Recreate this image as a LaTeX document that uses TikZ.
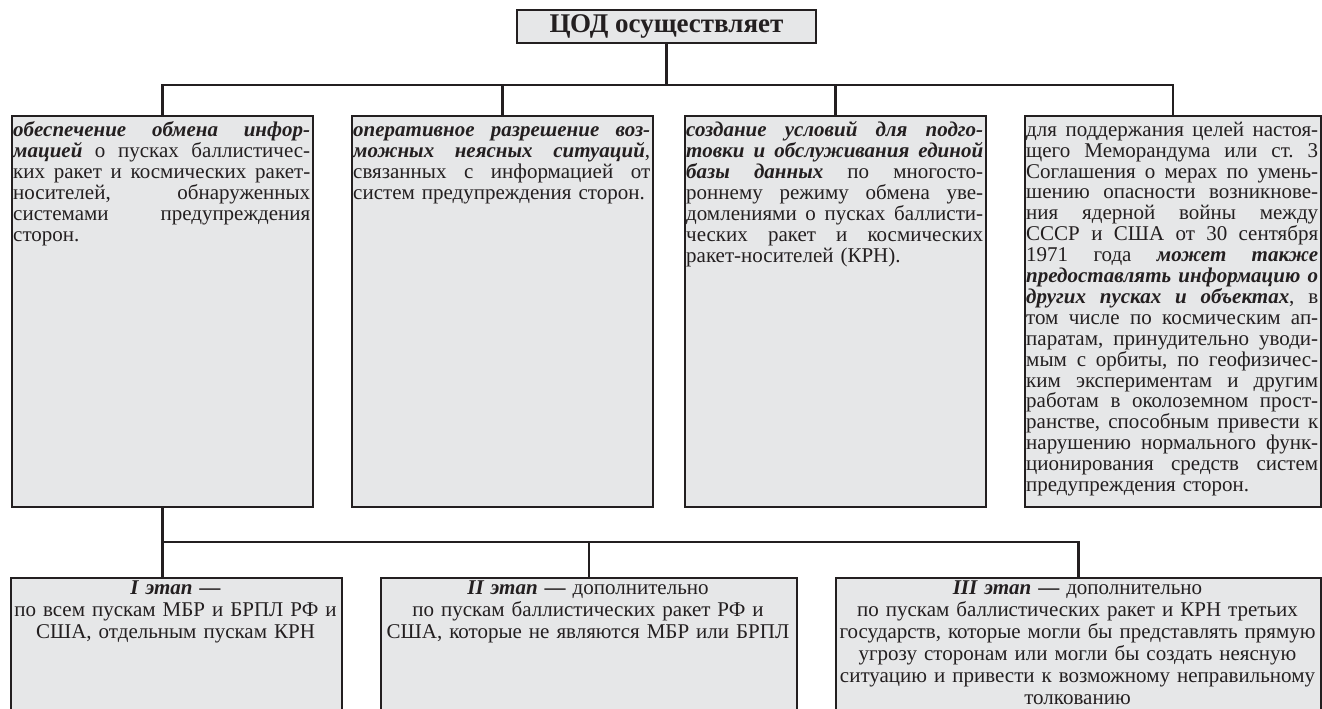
\documentclass[tikz,border=0pt]{standalone}
\usepackage{fontspec}
\setmainfont{Liberation Serif}
\frenchspacing
\setlength\parindent{0pt}
\definecolor{ink}{HTML}{231F20}
\definecolor{boxfill}{HTML}{E6E7E8}
\newcommand\jl[1]{{\spaceskip=0pt\xspaceskip=0pt\makebox[\hsize][s]{#1}}\\}
\newcommand\bi[1]{\textbf{\textit{#1}}}
\newcommand\fst{\rule{0pt}{16pt}}
\tikzset{
  boxsty/.style={draw=ink, fill=boxfill, line width=2pt, inner sep=0pt, anchor=north west},
  conn/.style={draw=ink, line width=2.2pt, line join=miter},
  toptxt/.style={inner sep=0pt, anchor=north west, align=left, text=ink,
    font=\fontsize{21}{20.9}\selectfont},
  bottxt/.style={inner sep=0pt, anchor=north, align=center, text=ink,
    font=\fontsize{21}{22}\selectfont},
}
\begin{document}
\begin{tikzpicture}[x=1pt,y=-1pt]
\useasboundingbox (0,0) rectangle (1322,709);
\clip (0,0) rectangle (1322,709);

% title
\node[boxsty, anchor=center, minimum width=299pt, minimum height=33pt,
      font=\fontsize{27}{30}\selectfont\bfseries, text=ink] (t0) at (666.5,26.5) {ЦОД осуществляет};

% upper boxes
\node[boxsty, minimum width=301pt, minimum height=391pt] (b1) at (11,115) {};
\node[boxsty, minimum width=301pt, minimum height=391pt] (b2) at (351,115) {};
\node[boxsty, minimum width=301pt, minimum height=391pt] (b3) at (684,115) {};
\node[boxsty, minimum width=296pt, minimum height=391pt] (b4) at (1024,115) {};

% lower boxes (run past the lower edge)
\node[boxsty, minimum width=331pt, minimum height=200pt] (c1) at (10,577) {};
\node[boxsty, minimum width=416pt, minimum height=200pt] (c2) at (380,577) {};
\node[boxsty, minimum width=485pt, minimum height=200pt] (c3) at (835,577) {};

% connectors
\coordinate (busTop) at (0,85);
\coordinate (busBot) at (0,542);
\draw[conn] (t0.south) -- (t0.south |- busTop);
\draw[conn] (b1.north) -- (b1.north |- busTop) -- (b4.north |- busTop) -- (b4.north);
\draw[conn] (b2.north) -- (b2.north |- busTop);
\draw[conn] (b3.north) -- (b3.north |- busTop);
\draw[conn] (b1.south) -- (b1.south |- c1.north);
\draw[conn] (b1.south |- busBot) -- (c3.north |- busBot) -- (c3.north);
\draw[conn] (c2.north) -- (c2.north |- busBot);

% upper texts
\node[toptxt, text width=297pt] (x1) at (13,120.5) {%
\jl{\fst\bi{обеспечение обмена инфор-}}
\jl{\bi{мацией} о пусках баллистичес-}
\jl{ких ракет и космических ракет-}
\jl{носителей, обнаруженных}
\jl{системами предупреждения}
сторон.};

\node[toptxt, text width=297pt] (x2) at (353,120.5) {%
\jl{\fst\bi{оперативное разрешение воз-}}
\jl{\bi{можных неясных ситуаций},}
\jl{связанных с информацией от}
систем предупреждения сторон.};

\node[toptxt, text width=297pt] (x3) at (686,120.5) {%
\jl{\fst\bi{создание условий для подго-}}
\jl{\bi{товки и обслуживания единой}}
\jl{\bi{базы данных} по многосто-}
\jl{роннему режиму обмена уве-}
\jl{домлениями о пусках баллисти-}
\jl{ческих ракет и космических}
ракет-носителей (КРН).};

\node[toptxt, text width=292pt] (x4) at (1026,120) {%
\jl{\fst для поддержания целей настоя-}
\jl{щего Меморандума или ст. 3}
\jl{Соглашения о мерах по умень-}
\jl{шению опасности возникнове-}
\jl{ния ядерной войны между}
\jl{СССР и США от 30 сентября}
\jl{1971 года \bi{может также}}
\jl{\bi{предоставлять информацию о}}
\jl{\bi{других пусках и объектах}, в}
\jl{том числе по космическим ап-}
\jl{паратам, принудительно уводи-}
\jl{мым с орбиты, по геофизичес-}
\jl{ким экспериментам и другим}
\jl{работам в околоземном прост-}
\jl{ранстве, способным привести к}
\jl{нарушению нормального функ-}
\jl{ционирования средств систем}
предупреждения сторон.};

% lower texts
\node[bottxt, text width=370pt] (y1) at (175.5,578) {%
\fst\bi{I этап —}\\
по всем пускам МБР и БРПЛ РФ и\\
США, отдельным пускам КРН};

\node[bottxt, text width=460pt] (y2) at (588,578) {%
\fst\bi{II этап} \textbf{—} дополнительно\\
по пускам баллистических ракет РФ и\\
США, которые не являются МБР или БРПЛ};

\node[bottxt, text width=530pt] (y3) at (1077.5,578) {%
\fst\bi{III этап} \textbf{—} дополнительно\\
по пускам баллистических ракет и КРН третьих\\
государств, которые могли бы представлять прямую\\
угрозу сторонам или могли бы создать неясную\\
ситуацию и привести к возможному неправильному\\
толкованию};
\end{tikzpicture}
\end{document}
